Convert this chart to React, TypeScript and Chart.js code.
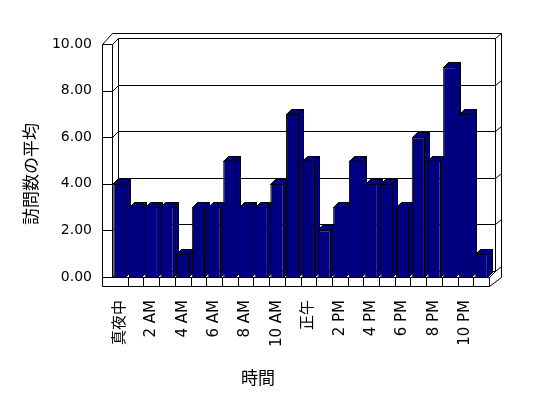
import React, { useEffect, useRef } from 'react';
import { Chart, registerables } from 'chart.js';

Chart.register(...registerables);

const hours = [
  '真夜中', '1 AM', '2 AM', '3 AM', '4 AM', '5 AM', '6 AM', '7 AM', '8 AM', '9 AM', '10 AM', '11 AM',
  '正午', '1 PM', '2 PM', '3 PM', '4 PM', '5 PM', '6 PM', '7 PM', '8 PM', '9 PM', '10 PM', '11 PM',
];
const visits = [4, 3, 3, 3, 1, 3, 3, 5, 3, 3, 4, 7, 5, 2, 3, 5, 4, 4, 3, 6, 5, 9, 7, 1];
const yTicks = [0, 2, 4, 6, 8, 10];
const xTitle = '時間';
const yTitle = '訪問数の平均';

const BAR_COLOR = '#000080';
const LINE_COLOR = '#000000';
const TICK_FONT = "'DejaVu Sans', 'Noto Sans CJK JP', sans-serif";
const TITLE_FONT = "'Noto Sans CJK JP', 'DejaVu Sans', sans-serif";

const p = (v: number) => Math.round(v) + 0.5;

const excel3d = {
  id: 'excel3d',
  beforeDatasetsDraw(chart: any) {
    const { ctx, chartArea, scales } = chart;
    const { left: L, right: R, top: T, bottom: B } = chartArea;
    const xs = scales.x;
    const ys = scales.y;
    const WL = L - 10; // left wall outer face
    const FB = B + 9; // floor bottom
    const D = 6; // inner depth
    const OX = R + 12; // outer right
    const OY = T - 11; // outer top
    ctx.save();
    ctx.strokeStyle = LINE_COLOR;
    ctx.lineWidth = 1;
    const line = (x1: number, y1: number, x2: number, y2: number) => {
      ctx.beginPath();
      ctx.moveTo(p(x1), p(y1));
      ctx.lineTo(p(x2), p(y2));
      ctx.stroke();
    };
    // outer box
    line(WL, T, L, OY);
    line(L, OY, OX, OY);
    line(OX, OY, OX, B);
    line(OX, B, R, FB);
    // left wall
    line(WL, T, WL, FB);
    line(L, T, L, B);
    // back wall sides
    line(L + D, T - D, L + D, B - D);
    line(R + D, T - D, R + D, B - D);
    // ticks + gridlines
    for (const v of yTicks) {
      const yy = ys.getPixelForValue(v);
      line(WL, yy, L, yy);
      line(L, yy, L + D, yy - D);
      line(L + D, yy - D, R + D, yy - D);
      line(R + D, yy - D, OX, yy - D - 5);
    }
    // floor
    line(L, B, R, B);
    line(WL, FB, R, FB);
    line(R, B, R, FB);
    line(R, B, R + D, B - D);
    for (let i = 1; i < hours.length; i++) {
      const xx = (xs.getPixelForValue(i - 1) + xs.getPixelForValue(i)) / 2;
      line(xx, B, xx, FB);
    }
    // 3D sides and tops of bars
    const meta = chart.getDatasetMeta(0);
    const d = 5;
    meta.data.forEach((bar: any) => {
      const { x, y, base, width } = bar.getProps(['x', 'y', 'base', 'width'], true);
      const x0 = p(x - width / 2);
      const x1 = p(x + width / 2) - 1;
      const yt = p(y);
      const yb = p(base);
      ctx.fillStyle = BAR_COLOR;
      // side
      ctx.beginPath();
      ctx.moveTo(x1, yt);
      ctx.lineTo(x1 + d, yt - d);
      ctx.lineTo(x1 + d, yb - d);
      ctx.lineTo(x1, yb);
      ctx.closePath();
      ctx.fill();
      ctx.stroke();
      // top
      ctx.beginPath();
      ctx.moveTo(x0, yt);
      ctx.lineTo(x0 + d, yt - d);
      ctx.lineTo(x1 + d, yt - d);
      ctx.lineTo(x1, yt);
      ctx.closePath();
      ctx.fill();
      ctx.stroke();
    });
    ctx.restore();
  },
  afterDraw(chart: any) {
    const { ctx } = chart;
    ctx.save();
    ctx.fillStyle = '#000';
    ctx.font = `17px ${TITLE_FONT}`;
    ctx.textAlign = 'center';
    ctx.textBaseline = 'middle';
    ctx.fillText(xTitle, 258, 378);
    ctx.translate(31, 174);
    ctx.rotate(-Math.PI / 2);
    ctx.fillText(yTitle, 0, 0);
    ctx.restore();
  },
};

export default function App() {
  const ref = useRef<HTMLCanvasElement>(null);
  useEffect(() => {
    document.body.style.margin = '0';
    const canvas = ref.current;
    if (!canvas) return;
    const chart = new Chart(canvas, {
      type: 'bar',
      data: {
        labels: hours,
        datasets: [
          {
            data: visits,
            backgroundColor: BAR_COLOR,
            borderColor: LINE_COLOR,
            borderWidth: 1,
            barPercentage: 0.84,
            categoryPercentage: 1,
          },
        ],
      },
      options: {
        responsive: false,
        animation: false,
        devicePixelRatio: 1,
        layout: { padding: { left: 0, right: 59, top: 44, bottom: 0 } },
        plugins: { legend: { display: false }, tooltip: { enabled: false } },
        scales: {
          x: {
            grid: { display: false, drawTicks: false },
            border: { display: false },
            ticks: {
              autoSkip: false,
              maxRotation: 90,
              minRotation: 90,
              padding: 23,
              color: '#000',
              font: { family: TICK_FONT, size: 15 },
              callback: (_v: any, i: number) => (i % 2 === 0 ? hours[i] : ''),
            },
            afterFit: (s: any) => {
              s.height = 121;
            },
          },
          y: {
            min: 0,
            max: 10,
            grid: { display: false, drawTicks: false },
            border: { display: false },
            ticks: {
              stepSize: 2,
              padding: 20,
              color: '#000',
              font: { family: TICK_FONT, size: 14 },
              callback: (v: any) => Number(v).toFixed(2),
            },
            afterFit: (s: any) => {
              s.width = 112;
            },
          },
        },
      },
      plugins: [excel3d],
    });
    return () => chart.destroy();
  }, []);
  return (
    <div style={{ position: 'absolute', left: 0, top: 0, width: 548, height: 398 }}>
      <canvas ref={ref} width={548} height={398} />
    </div>
  );
}
